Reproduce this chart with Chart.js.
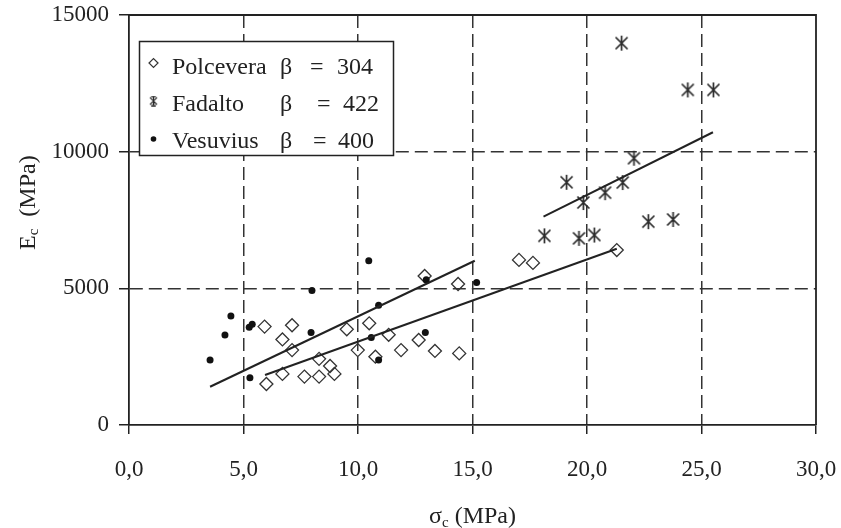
<!DOCTYPE html>
<html>
<head>
<meta charset="utf-8">
<script src="https://cdn.jsdelivr.net/npm/chart.js@4.4.0/dist/chart.umd.min.js"></script>
<style>
  html, body { margin: 0; padding: 0; background: #fff; }
  #wrap { width: 841px; height: 528px; }
</style>
</head>
<body>
<div id="wrap"><canvas id="chart" width="841" height="528"></canvas></div>
<script>
// values
const polcX = [5.92, 7.12, 6.70, 7.12, 6.00, 6.70, 7.66, 8.30, 8.30, 8.78, 8.97, 9.51, 9.99, 10.49, 10.76, 11.34, 11.88, 12.65, 12.91, 13.36, 14.37, 14.42, 17.03, 17.64, 21.30];
const polcY = [3600, 3650, 3130, 2740, 1500, 1870, 1770, 1770, 2420, 2160, 1870, 3500, 2740, 3720, 2500, 3300, 2740, 3110, 5450, 2710, 5160, 2620, 6040, 5930, 6400];

const fadX = [21.51, 24.40, 25.52, 22.05, 19.11, 21.56, 20.79, 19.84, 18.14, 19.65, 20.32, 22.68, 23.76];
const fadY = [13970, 12260, 12260, 9760, 8880, 8870, 8500, 8140, 6920, 6830, 6950, 7440, 7520];

const vesX = [3.54, 4.19, 4.45, 5.25, 5.38, 5.28, 7.99, 7.95, 10.47, 10.90, 10.58, 10.90, 12.98, 12.94, 15.18];
const vesY = [2380, 3290, 3990, 3580, 3690, 1730, 4920, 3380, 6010, 4380, 3200, 2380, 5310, 3380, 5210];

// fitted lines (end points)
const polcFitX = [5.94, 21.3];
const polcFitY = [1830, 6450];
const fadFitX = [18.1, 25.5];
const fadFitY = [7620, 10710];
const vesFitX = [3.54, 15.1];
const vesFitY = [1400, 6010];

const seriesNames = ['Polcevera', 'Fadalto', 'Vesuvius'];
const betaValues = ['304', '422', '400'];

const xTicks = [0, 5, 10, 15, 20, 25, 30];
const yTicks = [0, 5000, 10000, 15000];

const FONT = '"Liberation Serif", "DejaVu Serif", serif';
const INK = '#222';

function pts(xs, ys) {
  return xs.map((x, i) => ({ x: x, y: ys[i] }));
}

// asterisk marker like the printed one (vertical bar + two diagonals)
function makeStar(size, lw, bars) {
  const c = document.createElement('canvas');
  c.width = size; c.height = size;
  const g = c.getContext('2d');
  g.strokeStyle = '#2a2a2a';
  g.lineWidth = lw;
  const m = size / 2, r = size / 2 - 1;
  g.beginPath();
  g.moveTo(m, m - r); g.lineTo(m, m + r);
  g.moveTo(m - r * 0.8, m - r * 0.8); g.lineTo(m + r * 0.8, m + r * 0.8);
  g.moveTo(m + r * 0.8, m - r * 0.8); g.lineTo(m - r * 0.8, m + r * 0.8);
  if (bars) {
    g.moveTo(m - r * 0.5, m - r); g.lineTo(m + r * 0.5, m - r);
    g.moveTo(m - r * 0.5, m + r); g.lineTo(m + r * 0.5, m + r);
  }
  g.stroke();
  return c;
}
const starBig = makeStar(17, 1.7, false);
const starSmall = makeStar(11, 1.3, true);

function fitLine(xs, ys) {
  return {
    type: 'line', data: pts(xs, ys), showLine: true, pointRadius: 0,
    borderColor: INK, borderWidth: 2, fill: false, order: 0
  };
}

const gridColor = (max) => (ctx) => {
  const v = ctx.tick ? ctx.tick.value : null;
  return (v === 0 || v === max) ? 'rgba(0,0,0,0)' : '#333';
};

const noPad = (s) => {
  s.paddingTop = 0; s.paddingBottom = 0; s.paddingLeft = 0; s.paddingRight = 0;
};

// frame, axis titles and legend box
const extras = {
  id: 'extras',
  afterDatasetsDraw(chart) {
    const { ctx, chartArea: a } = chart;
    ctx.save();
    ctx.strokeStyle = INK;
    ctx.lineWidth = 1.8;
    ctx.beginPath();
    ctx.moveTo(a.left, a.top);
    ctx.lineTo(a.right, a.top);
    ctx.lineTo(a.right, a.bottom);
    ctx.stroke();

    // legend
    ctx.fillStyle = '#fff';
    ctx.fillRect(139.5, 41.5, 254, 114);
    ctx.lineWidth = 1.5;
    ctx.strokeRect(139.5, 41.5, 254, 114);

    const rows = [74, 111, 148];
    const eqX = [310, 317, 313];
    const numX = [337, 343, 338];
    ctx.fillStyle = INK;
    ctx.font = '24px ' + FONT;
    ctx.textAlign = 'left';
    ctx.textBaseline = 'alphabetic';
    rows.forEach((yb, i) => {
      ctx.fillText(seriesNames[i], 172, yb);
      ctx.fillText('\u03b2', 280, yb);
      ctx.fillText('=', eqX[i], yb);
      ctx.fillText(betaValues[i], numX[i], yb);
    });
    ctx.strokeStyle = '#333';
    ctx.lineWidth = 1.2;
    ctx.beginPath();
    ctx.moveTo(153.5 + 4.5, 63);
    ctx.lineTo(153.5, 63 - 4.5);
    ctx.lineTo(153.5 - 4.5, 63);
    ctx.lineTo(153.5, 63 + 4.5);
    ctx.closePath();
    ctx.stroke();
    ctx.drawImage(starSmall, 153.5 - 5.5, 101 - 5.5);
    ctx.beginPath();
    ctx.arc(153.5, 139, 2.8, 0, Math.PI * 2);
    ctx.fillStyle = '#111';
    ctx.fill();

    // x title: sigma_c (MPa)
    ctx.fillStyle = INK;
    const s1 = '\u03c3', s3 = ' (MPa)';
    ctx.font = '24px ' + FONT;
    const w1 = ctx.measureText(s1).width;
    const w3 = ctx.measureText(s3).width;
    ctx.font = '15px ' + FONT;
    const w2 = ctx.measureText('c').width;
    let x0 = (a.left + a.right) / 2 - (w1 + w2 + w3) / 2;
    ctx.font = '24px ' + FONT;
    ctx.fillText(s1, x0, 523);
    ctx.font = '15px ' + FONT;
    ctx.fillText('c', x0 + w1, 527);
    ctx.font = '24px ' + FONT;
    ctx.fillText(s3, x0 + w1 + w2, 523);

    // y title: E_c (MPa), rotated
    ctx.save();
    ctx.translate(35, 250);
    ctx.rotate(-Math.PI / 2);
    ctx.font = '24px ' + FONT;
    const e1 = ctx.measureText('E').width;
    ctx.fillText('E', 0, 0);
    ctx.font = '15px ' + FONT;
    ctx.fillText('c', e1, 3);
    const e2 = ctx.measureText('c').width;
    ctx.font = '24px ' + FONT;
    ctx.fillText('  (MPa)', e1 + e2, 0);
    ctx.restore();

    ctx.restore();
  }
};

new Chart(document.getElementById('chart'), {
  type: 'scatter',
  data: {
    datasets: [
      {
        label: seriesNames[2], data: pts(vesX, vesY), pointStyle: 'circle',
        pointRadius: 3.5, pointHoverRadius: 3.5, backgroundColor: '#111', borderColor: '#111',
        borderWidth: 0, order: 1
      },
      {
        label: seriesNames[0], data: pts(polcX, polcY), pointStyle: 'rectRot',
        pointRadius: 6.5, pointHoverRadius: 6.5, backgroundColor: 'rgba(255,255,255,0)',
        borderColor: '#333', borderWidth: 1.3, order: 2
      },
      {
        label: seriesNames[1], data: pts(fadX, fadY), pointStyle: starBig,
        pointRadius: 8, order: 3
      },
      fitLine(polcFitX, polcFitY),
      fitLine(fadFitX, fadFitY),
      fitLine(vesFitX, vesFitY)
    ]
  },
  options: {
    responsive: false,
    animation: false,
    devicePixelRatio: 1,
    layout: { padding: { top: 15, right: 25, left: 0, bottom: 0 } },
    plugins: { legend: { display: false }, tooltip: { enabled: false } },
    scales: {
      x: {
        type: 'linear', min: 0, max: 30,
        afterBuildTicks: (s) => { s.ticks = xTicks.map(v => ({ value: v })); },
        afterFit: (s) => { s.height = 103; noPad(s); },
        ticks: {
          color: INK, font: { family: FONT, size: 23 }, padding: 22,
          maxRotation: 0, autoSkip: false,
          callback: (v) => Number(v).toFixed(1).replace('.', ',')
        },
        grid: { color: gridColor(30), lineWidth: 1.5, tickColor: INK, tickLength: 9, tickWidth: 1.5 },
        border: { color: INK, width: 1.8, dash: [13, 6] }
      },
      y: {
        type: 'linear', min: 0, max: 15000,
        afterBuildTicks: (s) => { s.ticks = yTicks.map(v => ({ value: v })); },
        afterFit: (s) => { s.width = 129; noPad(s); },
        ticks: {
          color: INK, font: { family: FONT, size: 23 }, padding: 10,
          autoSkip: false,
          callback: (v) => String(v)
        },
        grid: { color: gridColor(15000), lineWidth: 1.5, tickColor: INK, tickLength: 10, tickWidth: 1.5 },
        border: { color: INK, width: 1.8, dash: [13, 6] }
      }
    }
  },
  plugins: [extras]
});
</script>
</body>
</html>
